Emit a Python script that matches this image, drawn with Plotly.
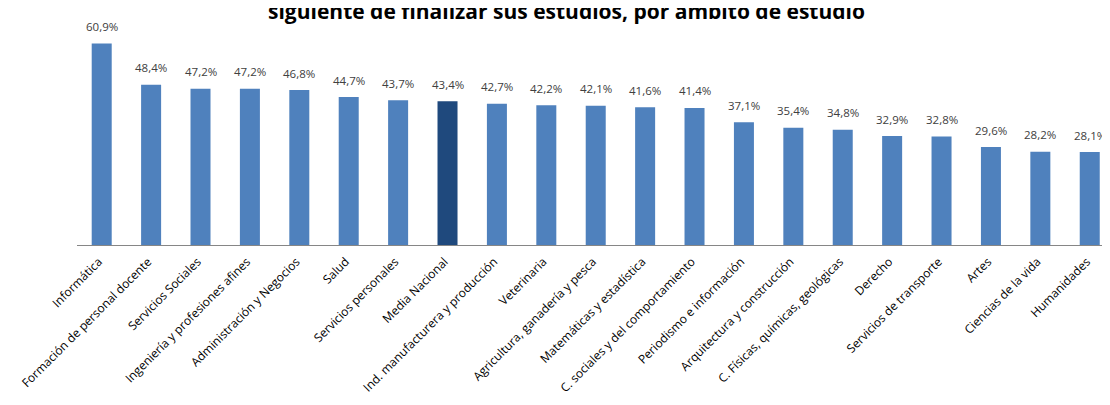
import plotly.graph_objects as go

categories = ["Informática", "Formación de personal docente", "Servicios Sociales",
              "Ingeniería y profesiones afines", "Administración y Negocios", "Salud",
              "Servicios personales", "Media Nacional", "Ind. manufacturera y producción",
              "Veterinaria", "Agricultura, ganadería y pesca", "Matemáticas y estadística",
              "C. sociales y del comportamiento", "Periodismo e información",
              "Arquitectura y construcción", "C. Físicas, químicas, geológicas", "Derecho",
              "Servicios de transporte", "Artes", "Ciencias de la vida", "Humanidades"]
values = [60.9, 48.4, 47.2, 47.2, 46.8, 44.7, 43.7, 43.4, 42.7, 42.2, 42.1, 41.6,
          41.4, 37.1, 35.4, 34.8, 32.9, 32.8, 29.6, 28.2, 28.1]
highlight = "Media Nacional"
title_text = "siguiente de finalizar sus estudios, por ámbito de estudio"

colors = ["#1F497D" if c == highlight else "#4F81BD" for c in categories]
labels = [f"{v:.1f}%".replace(".", ",") for v in values]

fig = go.Figure(go.Bar(
    x=categories, y=values, marker_color=colors, marker_line_width=0,
    width=0.405, hoverinfo="x+y",
))

annotations = [dict(x=c, y=v, text=t, xref="x", yref="y", showarrow=False,
                    yanchor="middle", xanchor="center", yshift=17,
                    font=dict(family="Open Sans", size=11.5, color="#404040"))
               for c, v, t in zip(categories, values, labels)]
annotations.append(dict(text="<b>" + title_text + "</b>", xref="paper", yref="paper",
                        x=0.474, y=1.0, yanchor="middle", xanchor="center", showarrow=False,
                        yshift=2, font=dict(family="Open Sans", size=21, color="#000000")))

fig.update_layout(
    width=1102, height=397, paper_bgcolor="white", plot_bgcolor="white",
    margin=dict(l=69, r=0, t=5, b=160), showlegend=False,
    font=dict(family="Open Sans", color="#000000"),
    xaxis=dict(range=[-0.5, 20.41], tickangle=-45, showline=True, linecolor="#868686",
               linewidth=1, ticks="", tickfont=dict(family="Open Sans", size=12, color="#000000"),
               ticklabelstandoff=4, ticklabelshift=-3,
               showgrid=False, automargin=False),
    yaxis=dict(range=[0, 70.1], visible=False, showgrid=False, zeroline=False),
    annotations=annotations,
)

fig.write_html("out.html")
